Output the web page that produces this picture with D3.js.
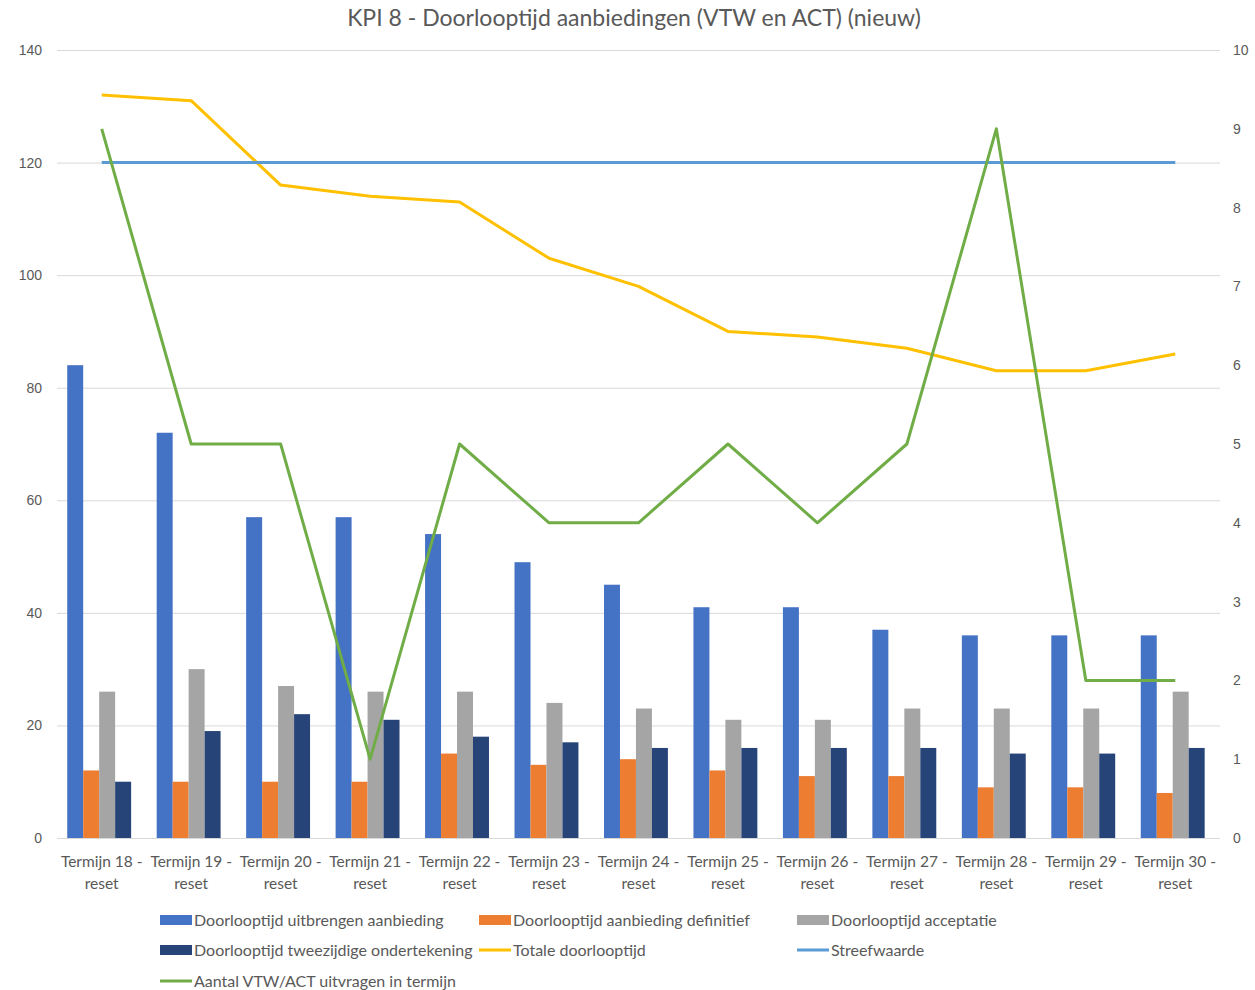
<!DOCTYPE html>
<head>
  <meta charset="utf-8">
  <script src="https://cdn.jsdelivr.net/npm/d3@7"></script>
  <style>
    body { margin:0; background:#fff; }
    svg { display:block; font-family: Lato, "Open Sans", sans-serif; }
    .grid line { stroke:#d9d9d9; stroke-width:1; }
    .axis text { fill:#595959; font-size:14px; }
    .xlab text { fill:#595959; font-size:15.5px; }
  </style>
</head>
<body>
<script>
  var categories = ["Termijn 18 - reset","Termijn 19 - reset","Termijn 20 - reset","Termijn 21 - reset",
    "Termijn 22 - reset","Termijn 23 - reset","Termijn 24 - reset","Termijn 25 - reset","Termijn 26 - reset",
    "Termijn 27 - reset","Termijn 28 - reset","Termijn 29 - reset","Termijn 30 - reset"];

  var uitbrengen   = [84, 72, 57, 57, 54, 49, 45, 41, 41, 37, 36, 36, 36];
  var definitief   = [12, 10, 10, 10, 15, 13, 14, 12, 11, 11,  9,  9,  8];
  var acceptatie   = [26, 30, 27, 26, 26, 24, 23, 21, 21, 23, 23, 23, 26];
  var ondertekening= [10, 19, 22, 21, 18, 17, 16, 16, 16, 16, 15, 15, 16];
  var totaal       = [132, 131, 116, 114, 113, 103, 98, 90, 89, 87, 83, 83, 86];
  var streefwaarde = [120, 120, 120, 120, 120, 120, 120, 120, 120, 120, 120, 120, 120];
  var aantal       = [9, 5, 5, 1, 5, 4, 4, 5, 4, 5, 9, 2, 2];

  var leftTicks = [0, 20, 40, 60, 80, 100, 120, 140];
  var rightTicks = [0, 1, 2, 3, 4, 5, 6, 7, 8, 9, 10];

  var barSeries = [
    { name: "Doorlooptijd uitbrengen aanbieding", values: uitbrengen, color: "#4472C4" },
    { name: "Doorlooptijd aanbieding definitief", values: definitief, color: "#ED7D31" },
    { name: "Doorlooptijd acceptatie", values: acceptatie, color: "#A5A5A5" },
    { name: "Doorlooptijd tweezijdige ondertekening", values: ondertekening, color: "#264478" }
  ];
  var lineSeries = [
    { name: "Totale doorlooptijd", values: totaal, color: "#FFC000", axis: "left" },
    { name: "Streefwaarde", values: streefwaarde, color: "#5B9BD5", axis: "left" },
    { name: "Aantal VTW/ACT uitvragen in termijn", values: aantal, color: "#70AD47", axis: "right" }
  ];

  var width = 1255, height = 990;
  var plotL = 57, plotR = 1220, plotT = 50, plotB = 838;

  var svg = d3.select("body").append("svg").attr("width", width).attr("height", height);

  var x = d3.scaleBand().domain(categories).range([plotL, plotR]).paddingInner(0).paddingOuter(0);
  var xInner = d3.scaleBand().domain(d3.range(barSeries.length))
    .range([0, x.bandwidth()]).paddingInner(0).paddingOuter(0.8).align(0.4);
  var yL = d3.scaleLinear().domain([0, 140]).range([plotB, plotT]);
  var yR = d3.scaleLinear().domain([0, 10]).range([plotB, plotT]);

  // title
  svg.append("text")
    .attr("x", 634).attr("y", 26)
    .attr("text-anchor", "middle")
    .attr("fill", "#595959")
    .style("font-size", "23px")
    .text("KPI 8 - Doorlooptijd aanbiedingen (VTW en ACT) (nieuw)");

  // gridlines
  svg.append("g").attr("class", "grid")
    .selectAll("line").data(leftTicks).enter().append("line")
    .attr("x1", plotL).attr("x2", plotR)
    .attr("y1", function(d) { return yL(d) + 0.5; })
    .attr("y2", function(d) { return yL(d) + 0.5; });

  // left axis
  var axL = svg.append("g").attr("class", "axis")
    .attr("transform", "translate(" + (plotL - 15) + ",0)")
    .call(d3.axisLeft(yL).tickValues(leftTicks).tickSize(0).tickPadding(0));
  axL.select(".domain").remove();

  // right axis
  var axR = svg.append("g").attr("class", "axis")
    .attr("transform", "translate(" + (plotR + 13) + ",0)")
    .call(d3.axisRight(yR).tickValues(rightTicks).tickSize(0).tickPadding(0));
  axR.select(".domain").remove();

  // x labels (two lines)
  var xl = svg.append("g").attr("class", "xlab")
    .selectAll("text").data(categories).enter().append("text")
    .attr("text-anchor", "middle")
    .attr("x", function(d) { return x(d) + x.bandwidth() / 2; })
    .attr("y", 867);
  xl.append("tspan")
    .attr("x", function(d) { return x(d) + x.bandwidth() / 2; })
    .text(function(d) { return d.split(" - ")[0] + " -"; });
  xl.append("tspan")
    .attr("x", function(d) { return x(d) + x.bandwidth() / 2; })
    .attr("dy", 22)
    .text(function(d) { return d.split(" - ")[1]; });

  // bars
  barSeries.forEach(function(s, i) {
    svg.append("g").selectAll("rect").data(s.values).enter().append("rect")
      .attr("x", function(d, j) { return x(categories[j]) + xInner(i); })
      .attr("width", xInner.bandwidth())
      .attr("y", function(d) { return yL(d); })
      .attr("height", function(d) { return plotB - yL(d); })
      .attr("fill", s.color);
  });

  // lines
  lineSeries.forEach(function(s) {
    var yS = s.axis === "left" ? yL : yR;
    var line = d3.line()
      .x(function(d, j) { return x(categories[j]) + x.bandwidth() / 2; })
      .y(function(d) { return yS(d); });
    svg.append("path")
      .datum(s.values)
      .attr("d", line)
      .attr("fill", "none")
      .attr("stroke", s.color)
      .attr("stroke-width", 3)
      .attr("stroke-linejoin", "round");
  });

  // legend
  var legendItems = [
    { s: barSeries[0], type: "bar", x: 160, y: 920 },
    { s: barSeries[1], type: "bar", x: 479, y: 920 },
    { s: barSeries[2], type: "bar", x: 797, y: 920 },
    { s: barSeries[3], type: "bar", x: 160, y: 950 },
    { s: lineSeries[0], type: "line", x: 479, y: 950 },
    { s: lineSeries[1], type: "line", x: 797, y: 950 },
    { s: lineSeries[2], type: "line", x: 160, y: 981 }
  ];
  var lg = svg.append("g").selectAll("g").data(legendItems).enter().append("g")
    .attr("transform", function(d) { return "translate(" + d.x + "," + d.y + ")"; });
  lg.filter(function(d) { return d.type === "bar"; }).append("rect")
    .attr("x", 0).attr("y", -5).attr("width", 32).attr("height", 10)
    .attr("fill", function(d) { return d.s.color; });
  lg.filter(function(d) { return d.type === "line"; }).append("line")
    .attr("x1", 0).attr("x2", 32).attr("y1", 0).attr("y2", 0)
    .attr("stroke", function(d) { return d.s.color; }).attr("stroke-width", 3);
  lg.append("text")
    .attr("x", 34).attr("y", 5.5)
    .attr("fill", "#595959")
    .style("font-size", "16px")
    .text(function(d) { return d.s.name; });
</script>
</body>
